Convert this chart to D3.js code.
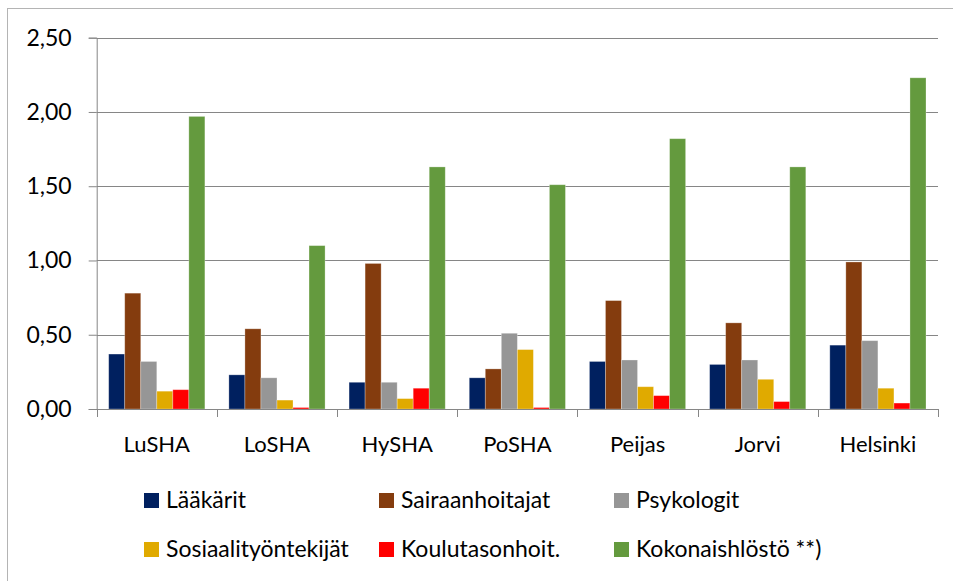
<!DOCTYPE html>
<head>
  <meta charset="utf-8">
  <style>
    body { margin: 0; background: #fff; }
    svg text { font-family: Lato, "Liberation Sans", sans-serif; fill: #000; }
  </style>
  <script src="https://d3js.org/d3.v7.min.js" charset="utf-8"></script>
</head>
<body>
  <script>

    const categories = ['LuSHA', 'LoSHA', 'HySHA', 'PoSHA', 'Peijas', 'Jorvi', 'Helsinki'];
    const seriesNames = ['Lääkärit', 'Sairaanhoitajat', 'Psykologit', 'Sosiaalityöntekijät', 'Koulutasonhoit.', 'Kokonaishlöstö **)'];
    const seriesColors = ['#00205f', '#843c0e', '#969696', '#e0aa00', '#ff0000', '#649a3e'];

    const laakarit        = [0.37, 0.23, 0.18, 0.21, 0.32, 0.30, 0.43];
    const sairaanhoitajat = [0.78, 0.54, 0.98, 0.27, 0.73, 0.58, 0.99];
    const psykologit      = [0.32, 0.21, 0.18, 0.51, 0.33, 0.33, 0.46];
    const sosiaali        = [0.12, 0.06, 0.07, 0.40, 0.15, 0.20, 0.14];
    const koulutason      = [0.13, 0.01, 0.14, 0.01, 0.09, 0.05, 0.04];
    const kokonais        = [1.97, 1.10, 1.63, 1.51, 1.82, 1.63, 2.23];

    const yTicks = [0, 0.5, 1, 1.5, 2, 2.5];

    const allSeries = [laakarit, sairaanhoitajat, psykologit, sosiaali, koulutason, kokonais];

    const w = 953, h = 581;
    const plot = { left: 96.7, right: 938, top: 37.7, bottom: 409 };

    const svg = d3.select('body').append('svg')
      .attr('width', w)
      .attr('height', h);

    // outer chart border (runs off the right/bottom edge)
    svg.append('rect')
      .attr('x', 7.5).attr('y', 8.5)
      .attr('width', 980).attr('height', 620)
      .attr('fill', 'none')
      .attr('stroke', '#b4b4b4');

    const x = d3.scaleBand()
      .domain(categories)
      .range([plot.left, plot.right])
      .padding(0);

    const inner = d3.scaleBand()
      .domain(d3.range(seriesNames.length))
      .range([12, x.bandwidth() - 12]);

    const y = d3.scaleLinear()
      .domain([0, 2.5])
      .range([plot.bottom, plot.top]);

    const fmt = (d) => d3.format('.2f')(d).replace('.', ',');

    // gridlines + left ticks
    const yAxis = svg.append('g')
      .attr('transform', `translate(${plot.left},0)`)
      .call(d3.axisLeft(y).tickValues(yTicks).tickSize(8).tickFormat(fmt));
    yAxis.select('.domain').attr('stroke', '#868686');
    yAxis.selectAll('.tick line').attr('stroke', '#868686');
    yAxis.selectAll('.tick text')
      .attr('x', -25)
      .attr('font-size', '23px')
      .attr('font-family', 'Lato, "Liberation Sans", sans-serif');

    svg.append('g')
      .selectAll('line')
      .data(yTicks.filter(d => d > 0))
      .enter()
      .append('line')
      .attr('x1', plot.left).attr('x2', plot.right)
      .attr('y1', d => Math.round(y(d)) + 0.5)
      .attr('y2', d => Math.round(y(d)) + 0.5)
      .attr('stroke', '#868686');

    // bars
    const groups = svg.append('g')
      .selectAll('g')
      .data(categories)
      .enter()
      .append('g')
      .attr('transform', d => `translate(${x(d)},0)`);

    groups.selectAll('rect')
      .data((c, ci) => allSeries.map((s, si) => ({ si: si, v: s[ci] })))
      .enter()
      .append('rect')
      .attr('x', d => inner(d.si))
      .attr('width', inner.bandwidth())
      .attr('y', d => y(d.v))
      .attr('height', d => y(0) - y(d.v))
      .attr('fill', d => seriesColors[d.si])
      .attr('stroke', '#fff')
      .attr('stroke-opacity', 0.35)
      .attr('stroke-width', 0.8);

    // bottom axis with ticks at category boundaries
    const xAxis = svg.append('g')
      .attr('transform', `translate(0,${plot.bottom})`);
    xAxis.append('line')
      .attr('x1', plot.left).attr('x2', plot.right)
      .attr('y1', 0.5).attr('y2', 0.5)
      .attr('stroke', '#868686');
    xAxis.selectAll('line.tk')
      .data(d3.range(categories.length + 1))
      .enter()
      .append('line')
      .attr('class', 'tk')
      .attr('x1', i => Math.round(plot.left + i * x.step()) + 0.5)
      .attr('x2', i => Math.round(plot.left + i * x.step()) + 0.5)
      .attr('y1', 0).attr('y2', 8)
      .attr('stroke', '#868686');
    xAxis.selectAll('text')
      .data(categories)
      .enter()
      .append('text')
      .text(d => d)
      .attr('x', d => x(d) + x.bandwidth() / 2)
      .attr('y', 43)
      .attr('text-anchor', 'middle')
      .attr('font-size', '22px');

    // legend, 3 per row
    const legendX = [144, 379, 614];
    const legendY = [493, 542];

    const legend = svg.append('g')
      .selectAll('g')
      .data(seriesNames)
      .enter()
      .append('g')
      .attr('transform', (d, i) => `translate(${legendX[i % 3]},${legendY[Math.floor(i / 3)]})`);

    legend.append('rect')
      .attr('width', 15).attr('height', 15)
      .attr('fill', (d, i) => seriesColors[i]);

    legend.append('text')
      .text(d => d)
      .attr('x', 22)
      .attr('y', 15)
      .attr('font-size', '23px');

  </script>
</body>
